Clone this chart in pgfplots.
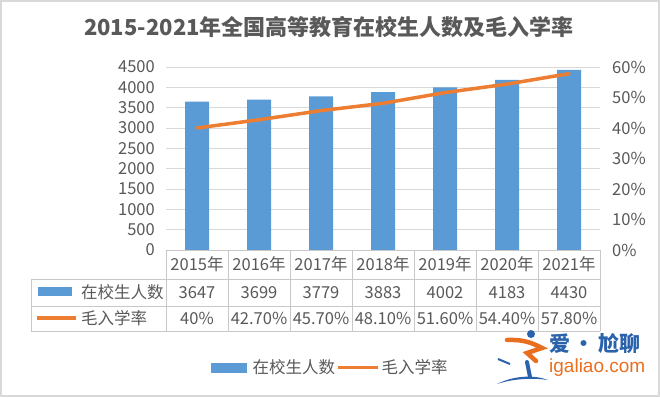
\documentclass[border=0pt]{standalone}
\usepackage{fontspec}
\setmainfont{Noto Sans CJK SC}
\newfontfamily\latinfont{Liberation Sans}
\usepackage{pgfplots}
\usepackage{pgfplotstable}
\pgfplotsset{compat=1.18}
\definecolor{barblue}{HTML}{5B9BD5}
\definecolor{lineorange}{HTML}{ED7D31}
\definecolor{txt}{HTML}{595959}
\definecolor{gridc}{HTML}{D9D9D9}
\definecolor{tabc}{HTML}{C8C8C8}
\definecolor{logoblue}{HTML}{2A62AC}
\definecolor{logoorange}{HTML}{E96F1F}
\pgfplotstableread{
x n r
0 3647 40.0
1 3699 42.7
2 3779 45.7
3 3883 48.1
4 4002 51.6
5 4183 54.4
6 4430 57.8
}\data
\newcommand{\tf}{\fontsize{16.5bp}{19bp}\selectfont}
\begin{document}
\begin{tikzpicture}[x=1bp,y=1bp]
\useasboundingbox (0,0) rectangle (660,397);
\fill[white] (0,0) rectangle (660,397);
\draw[gridc, line width=2bp] (1,1) rectangle (659,396);
% title
\node[txt, font=\fontsize{22bp}{26bp}\selectfont\bfseries] at (329,370) {2015-2021年全国高等教育在校生人数及毛入学率};
% left axis with bars
\begin{axis}[
  at={(166bp,147bp)}, anchor=south west,
  width=434bp, height=183bp, scale only axis,
  xmin=-0.5, xmax=6.5, ymin=0, ymax=4500,
  ytick={0,500,...,4500}, xtick=\empty,
  scaled y ticks=false,
  axis line style={draw=none},
  major tick length=0pt,
  ymajorgrids, major grid style={gridc, line width=0.8bp},
  yticklabel={\pgfmathprintnumber[assume math mode=true,1000 sep={}]{\tick}},
  yticklabel style={font=\tf, text=txt, anchor=east, inner sep=0pt, xshift=-11bp},
  clip=false,
]
\addplot[ybar, bar width=24bp, fill=barblue, draw=none] table[x=x,y=n]{\data};
\end{axis}
% right axis with line
\begin{axis}[
  at={(166bp,147bp)}, anchor=south west,
  width=434bp, height=183bp, scale only axis,
  xmin=-0.5, xmax=6.5, ymin=0, ymax=60,
  ytick={0,10,...,60},
  axis y line*=right, axis x line=none,
  y axis line style={draw=none},
  major tick length=0pt,
  yticklabel={\pgfmathprintnumber[assume math mode=true]{\tick}\%},
  yticklabel style={font=\tf, text=txt, anchor=west, inner sep=0pt, xshift=12bp},
  clip=false,
]
\addplot[lineorange, line width=3.5bp, line cap=round, line join=round, mark=none] table[x=x,y=r]{\data};
\end{axis}
% data table grid
\begin{scope}[tabc, line width=0.8bp]
\draw (166,147) -- (600,147);
\draw (31,118) -- (600,118);
\draw (31,91) -- (600,91);
\draw (31,66) -- (600,66);
\draw (31,66) -- (31,118);
\foreach \i in {0,...,7} { \draw (166+62*\i,66) -- (166+62*\i,147); }
\end{scope}
\begin{scope}[txt, font=\tf]
\foreach \t [count=\i from 0] in {2015年,2016年,2017年,2018年,2019年,2020年,2021年}
  { \node at (197+62*\i,132.5) {\t}; }
\foreach \t [count=\i from 0] in {3647,3699,3779,3883,4002,4183,4430}
  { \node at (197+62*\i,104.5) {\t}; }
\foreach \t [count=\i from 0] in {40\%,42.70\%,45.70\%,48.10\%,51.60\%,54.40\%,57.80\%}
  { \node at (197+62*\i,78.5) {\t}; }
\fill[barblue] (38,101) rectangle (72,110);
\node[anchor=west, inner sep=0pt] at (81,104.5) {在校生人数};
\draw[lineorange, line width=3.5bp] (37,79) -- (76,79);
\node[anchor=west, inner sep=0pt] at (81,78.5) {毛入学率};
% bottom legend
\fill[barblue] (211,24.5) rectangle (247,34.5);
\node[anchor=west, inner sep=0pt] at (252.5,29.5) {在校生人数};
\draw[lineorange, line width=3.5bp] (338,29.7) -- (378,29.7);
\node[anchor=west, inner sep=0pt] at (381.5,29.5) {毛入学率};
\end{scope}
% watermark logo
\node[anchor=west, inner sep=0pt, logoblue, font=\fontsize{21bp}{24bp}\selectfont\bfseries] at (549,53) {爱\,·\,尬聊};
\node[anchor=west, inner sep=0pt, logoorange, font=\fontsize{19bp}{22bp}\selectfont\latinfont] at (549,29) {igaliao.com};
\fill[logoblue] (531,63) circle (4);
\draw[logoorange, line width=4.5bp, line cap=round] (507,57) to[bend left=15] (542,49) -- (527,44) -- (536,36);
\draw[logoblue, line width=4bp, line cap=round] (527,35) -- (530,20);
\fill[logoblue] (497,13) .. controls (515,22) and (535,22) .. (548,17) .. controls (535,19) and (515,19) .. (497,13) -- cycle;
\draw[logoblue, line width=2bp] (498,38) -- (510,33);
\end{tikzpicture}
\end{document}
